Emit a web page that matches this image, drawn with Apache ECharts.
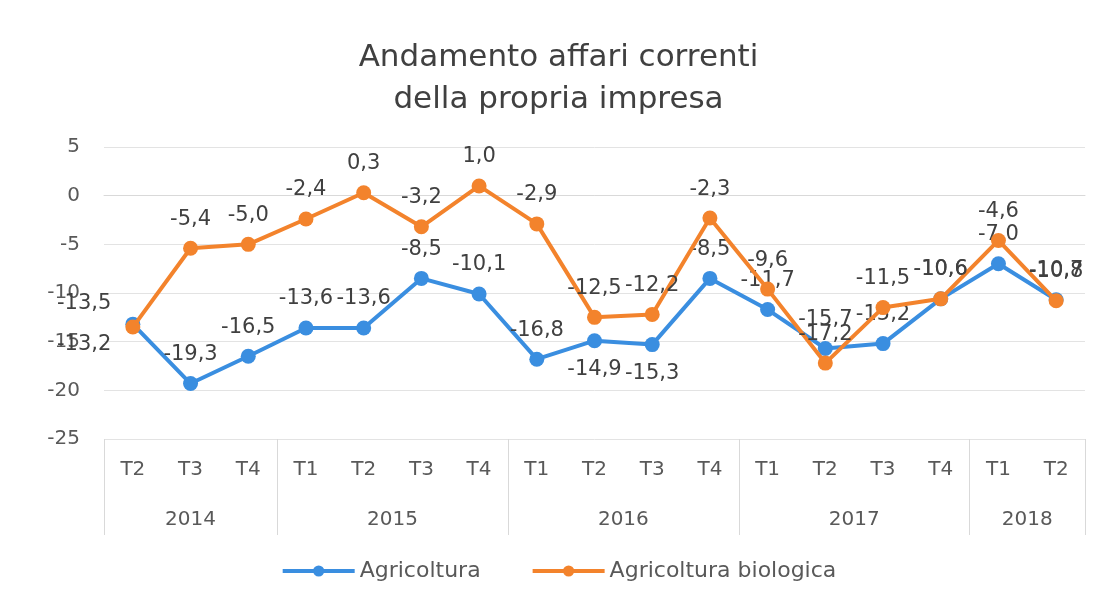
<!DOCTYPE html>
<html>
	<head>
		<meta charset="utf-8">
		<title></title>
		<script type="text/javascript" src="https://cdn.jsdelivr.net/npm/echarts@6/dist/echarts.min.js"></script>
	</head>
	<body style="margin:0;background:#fff;">
		<div id="chart" style="width:1117px;height:601px;"></div>
		<script type="text/javascript">
			// dati
			var quarters = ['T2', 'T3', 'T4', 'T1', 'T2', 'T3', 'T4', 'T1', 'T2', 'T3', 'T4', 'T1', 'T2', 'T3', 'T4', 'T1', 'T2'];
			var years = ['2014', '2015', '2016', '2017', '2018'];
			var quartersPerYear = [3, 4, 4, 4, 2];
			var agricoltura = [-13.2, -19.3, -16.5, -13.6, -13.6, -8.5, -10.1, -16.8, -14.9, -15.3, -8.5, -11.7, -15.7, -15.2, -10.6, -7.0, -10.7];
			var biologica = [-13.5, -5.4, -5.0, -2.4, 0.3, -3.2, 1.0, -2.9, -12.5, -12.2, -2.3, -9.6, -17.2, -11.5, -10.6, -4.6, -10.8];
			var yTicks = [-25, -20, -15, -10, -5, 0, 5];

			// posizione etichette
			var agriLabelPos = ['left', 'top', 'top', 'top', 'top', 'top', 'top', 'top', 'bottom', 'bottom', 'top', 'top', 'top', 'top', 'top', 'top', 'top'];
			var bioLabelPos = ['left', 'top', 'top', 'top', 'top', 'top', 'top', 'top', 'top', 'top', 'top', 'top', 'top', 'top', 'top', 'top', 'top'];

			var font = 'DejaVu Sans';
			var grigio = '#595959';

			// asse degli anni: mezze categorie, etichetta al centro del gruppo
			var yearSlots = [];
			var boundaries = {};
			var centers = {};
			var pos = 0;
			for (var i = 0; i < years.length; i++) {
				boundaries[pos * 2] = true;
				centers[pos * 2 + quartersPerYear[i]] = years[i];
				pos += quartersPerYear[i];
			}
			boundaries[pos * 2] = true;
			for (var k = 0; k <= pos * 2; k++) {
				yearSlots.push(centers[k] || '');
			}

			function fmt(v) {
				return v.toFixed(1).replace('.', ',');
			}

			function buildData(values, positions, up) {
				return values.map(function(v, i) {
					var p = positions[i];
					var lbl = { position: p };
					if (p === 'left') {
						lbl.offset = [-8, up ? -24 : 20];
						lbl.distance = 6;
					}
					return { value: v, label: lbl };
				});
			}

			var myChart = echarts.init(document.getElementById('chart'));
			var option = {
				backgroundColor: '#fff',
				title: {
					text: 'Andamento affari correnti\ndella propria impresa',
					left: 'center',
					top: 32,
					textStyle: {
						fontFamily: font,
						fontWeight: 'normal',
						fontSize: 31,
						lineHeight: 42,
						color: '#404040'
					}
				},
				legend: {
					bottom: 14,
					left: 'center',
					itemWidth: 72,
					itemHeight: 14,
					itemGap: 50,
					lineStyle: { width: 4 },
					textStyle: { fontFamily: font, fontSize: 22, color: grigio },
					data: ['Agricoltura', 'Agricoltura biologica']
				},
				grid: {
					left: 104,
					right: 32,
					top: 147,
					bottom: 162
				},
				yAxis: {
					type: 'value',
					min: yTicks[0],
					max: yTicks[yTicks.length - 1],
					interval: 5,
					axisLine: { show: false },
					axisTick: { show: false },
					axisLabel: { fontFamily: font, fontSize: 20, color: grigio, margin: 24 },
					splitLine: { lineStyle: { color: '#e3e3e3', width: 1 } }
				},
				xAxis: [{
						type: 'category',
						data: quarters,
						boundaryGap: true,
						axisLine: { lineStyle: { color: '#d9d9d9' } },
						axisTick: { show: false },
						axisLabel: { fontFamily: font, fontSize: 20, color: grigio, margin: 21 }
					},
					{
						type: 'category',
						data: yearSlots,
						position: 'bottom',
						boundaryGap: false,
						axisLine: { show: false },
						axisTick: {
							show: true,
							length: 96,
							interval: function(index) {
								return !!boundaries[index];
							},
							lineStyle: { color: '#d9d9d9' }
						},
						axisLabel: {
							interval: 0,
							fontFamily: font,
							fontSize: 20,
							color: grigio,
							margin: 71
						}
					}
				],
				series: [{
						name: 'Agricoltura',
						type: 'line',
						xAxisIndex: 0,
						data: buildData(agricoltura, agriLabelPos, false),
						color: '#3a8ee0',
						symbol: 'circle',
						symbolSize: 15,
						lineStyle: { width: 4 },
						label: {
							show: true,
							distance: 11,
							fontFamily: font,
							fontSize: 21,
							color: '#404040',
							formatter: function(p) { return fmt(p.value); }
						},
						z: 2
					},
					{
						name: 'Agricoltura biologica',
						type: 'line',
						xAxisIndex: 0,
						data: buildData(biologica, bioLabelPos, true),
						color: '#f3832c',
						symbol: 'circle',
						symbolSize: 15,
						lineStyle: { width: 4 },
						label: {
							show: true,
							distance: 11,
							fontFamily: font,
							fontSize: 21,
							color: '#404040',
							formatter: function(p) { return fmt(p.value); }
						},
						z: 3
					}
				]
			};
			myChart.setOption(option);
		</script>
	</body>
</html>
